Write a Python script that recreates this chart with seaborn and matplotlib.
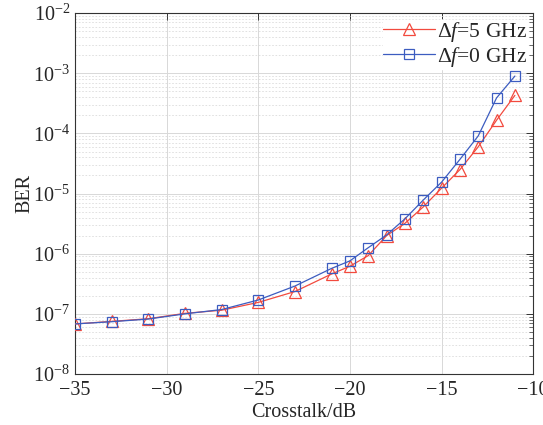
import numpy as np
import pandas as pd
import matplotlib
matplotlib.use("Agg")
import matplotlib.pyplot as plt
import seaborn as sns
from matplotlib.ticker import LogLocator, NullFormatter

crosstalk = [-35, -33, -31, -29, -27, -25, -23, -21, -20, -19, -18, -17, -16, -15, -14, -13, -12, -11]
ber_5ghz = [6.8e-8, 7.5e-8, 8.3e-8, 1.02e-7, 1.15e-7, 1.55e-7, 2.35e-7, 4.6e-7, 6.2e-7, 9.3e-7,
            2.0e-6, 3.2e-6, 6.0e-6, 1.23e-5, 2.5e-5, 6.0e-5, 1.66e-4, 4.3e-4]
ber_0ghz = [6.8e-8, 7.4e-8, 8.2e-8, 1.0e-7, 1.18e-7, 1.7e-7, 2.9e-7, 5.7e-7, 7.6e-7, 1.26e-6,
            2.05e-6, 3.8e-6, 7.8e-6, 1.55e-5, 3.7e-5, 9.1e-5, 3.9e-4, 9.0e-4]
labels = [r"$\Delta f$=5 GHz", r"$\Delta f$=0 GHz"]
x_ticks = [-35, -30, -25, -20, -15, -10]

df5 = pd.DataFrame({"x": crosstalk, "y": ber_5ghz})
df0 = pd.DataFrame({"x": crosstalk, "y": ber_0ghz})

sns.set_style("white")
plt.rcParams["font.family"] = ["Liberation Serif", "DejaVu Serif"]
plt.rcParams["mathtext.fontset"] = "custom"
plt.rcParams["mathtext.rm"] = "Liberation Serif"
plt.rcParams["mathtext.it"] = "Liberation Serif:italic"

fig = plt.figure(figsize=(5.43, 4.25), dpi=100)
ax = fig.add_axes([0.138, 0.12, 0.844, 0.849])

red = "#f24a3e"
blue = "#3c5cc0"
sns.lineplot(data=df5, x="x", y="y", ax=ax, color=red, linewidth=0.9, marker="^",
             markersize=8, markerfacecolor="none", markeredgecolor=red,
             markeredgewidth=0.9, label=labels[0], zorder=3)
sns.lineplot(data=df0, x="x", y="y", ax=ax, color=blue, linewidth=0.9, marker="s",
             markersize=6.5, markerfacecolor="none", markeredgecolor=blue,
             markeredgewidth=0.9, label=labels[1], zorder=3)

ax.set_yscale("log")
ax.set_xlim(-35, -10)
ax.set_ylim(1e-8, 1e-2)
ax.set_xticks(x_ticks)
ax.set_xticklabels(["\u221235", "\u221230", "\u221225", "\u221220", "\u221215", "\u221210"])
ax.yaxis.set_major_locator(LogLocator(base=10, numticks=10))
ax.yaxis.set_minor_locator(LogLocator(base=10, subs=np.arange(2, 10), numticks=20))
ax.yaxis.set_minor_formatter(NullFormatter())

ax.grid(True, which="major", axis="both", color="#d8d8d8", linewidth=0.7, linestyle="-")
ax.grid(True, which="minor", axis="y", color="#dcdcdc", linewidth=0.6, linestyle=(0, (2, 2)))
ax.set_axisbelow(True)

ax.tick_params(axis="both", which="both", direction="in", top=True, right=True, labelsize=14.5,
               color="#333333")
ax.tick_params(axis="both", which="major", length=5, width=0.7)
ax.tick_params(axis="y", which="minor", length=3, width=0.5)
ax.tick_params(axis="x", which="major", pad=5)
for sp in ax.spines.values():
    sp.set_color("#333333")
    sp.set_linewidth(0.8)

ax.set_xlabel("Crosstalk/dB", fontsize=14.5, labelpad=2)
ax.set_ylabel("BER", fontsize=14.5, labelpad=-1)

leg = ax.legend(loc="upper right", fontsize=15.5, frameon=True, fancybox=False,
                borderpad=0.0, handlelength=2.4, handletextpad=0.1, labelspacing=0.05,
                borderaxespad=0.3, edgecolor="white", framealpha=1)
leg.set_zorder(2.5)

fig.savefig("out.png", dpi=100)
